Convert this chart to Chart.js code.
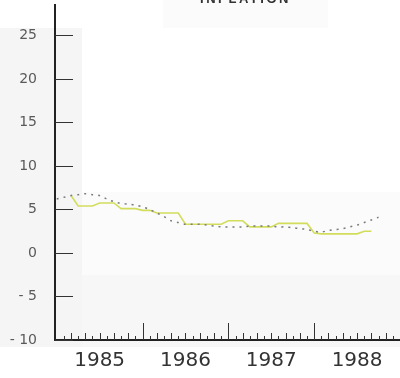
<!DOCTYPE html>
<html>
<head>
<meta charset="utf-8">
<script src="https://cdn.jsdelivr.net/npm/chart.js@4"></script>
<style>
  html, body { margin: 0; padding: 0; background: #fff; }
  #wrap { position: relative; width: 400px; height: 378px; overflow: hidden; }
  #title {
    position: absolute; left: 163px; top: -9px; width: 165px; height: 37px;
    box-sizing: border-box; padding-top: 0; text-align: center;
    font: bold 13px "Liberation Sans", Arial, sans-serif; color: #333; letter-spacing: 2.5px;
  }
</style>
</head>
<body>
<div id="wrap">
  <canvas id="chart" width="400" height="378"></canvas>
  <div id="title">INFLATION</div>
</div>
<script>
// monthly observations, Jan 1985 onwards
const solidMonths = ['1985-03','1985-04','1985-05','1985-06','1985-07','1985-08','1985-09','1985-10','1985-11','1985-12',
  '1986-01','1986-02','1986-03','1986-04','1986-05','1986-06','1986-07','1986-08','1986-09','1986-10','1986-11','1986-12',
  '1987-01','1987-02','1987-03','1987-04','1987-05','1987-06','1987-07','1987-08','1987-09','1987-10','1987-11','1987-12',
  '1988-01','1988-02','1988-03','1988-04','1988-05','1988-06','1988-07','1988-08','1988-09'];
const solidValues = [6.6, 5.4, 5.4, 5.4, 5.75, 5.75, 5.75, 5.1, 5.1, 5.1,
  4.9, 4.9, 4.6, 4.6, 4.6, 4.6, 3.3, 3.3, 3.3, 3.3, 3.3, 3.3,
  3.7, 3.7, 3.7, 3.0, 3.0, 3.0, 3.0, 3.4, 3.4, 3.4, 3.4, 3.4,
  2.3, 2.2, 2.2, 2.2, 2.2, 2.2, 2.2, 2.5, 2.5];

const dottedMonths = ['1985-01','1985-02','1985-03','1985-04','1985-05','1985-06','1985-07','1985-08','1985-09','1985-10','1985-11','1985-12',
  '1986-01','1986-02','1986-03','1986-04','1986-05','1986-06','1986-07','1986-08','1986-09','1986-10','1986-11','1986-12',
  '1987-01','1987-02','1987-03','1987-04','1987-05','1987-06','1987-07','1987-08','1987-09','1987-10','1987-11','1987-12',
  '1988-01','1988-02','1988-03','1988-04','1988-05','1988-06','1988-07','1988-08','1988-09','1988-10'];
const dottedValues = [6.2, 6.4, 6.6, 6.7, 6.8, 6.7, 6.6, 6.2, 5.9, 5.7, 5.6, 5.5,
  5.3, 5.0, 4.6, 4.2, 3.7, 3.5, 3.3, 3.3, 3.3, 3.2, 3.1, 3.0,
  3.0, 3.0, 3.0, 3.1, 3.1, 3.1, 3.1, 3.0, 3.0, 2.9, 2.8, 2.7,
  2.5, 2.4, 2.6, 2.7, 2.8, 3.0, 3.2, 3.5, 3.8, 4.1];

const yearLabels = ['1985', '1986', '1987', '1988'];
const yTickValues = [-10, -5, 0, 5, 10, 15, 20, 25];

const toYear = (m) => {
    const [y, mo] = m.split('-').map(Number);
    return y + (mo - 1) / 12;
};
const toPoints = (months, values) => months.map((m, i) => ({ x: toYear(m), y: values[i] }));

// faint paper tones of the scanned original
const backdrop = {
    id: 'backdrop',
    beforeDraw(chart) {
        const ctx = chart.ctx;
        ctx.save();
        ctx.fillStyle = '#f5f5f5';
        ctx.fillRect(0, 28, 82, 319);
        ctx.fillStyle = '#f7f7f7';
        ctx.fillRect(82, 275, 318, 72);
        ctx.fillStyle = '#fbfbfb';
        ctx.fillRect(82, 192, 318, 83);
        ctx.fillRect(163, 0, 165, 28);
        ctx.restore();
    }
};

const tickMarks = {
    id: 'tickMarks',
    afterDraw(chart) {
        const ctx = chart.ctx;
        const xs = chart.scales.x;
        const ys = chart.scales.y;
        const left = chart.chartArea.left;
        const bottom = chart.chartArea.bottom;
        ctx.save();
        ctx.strokeStyle = '#333';
        ctx.lineWidth = 1;
        yTickValues.forEach(v => {
            const py = Math.round(ys.getPixelForValue(v)) + 0.5;
            ctx.beginPath();
            ctx.moveTo(left, py);
            ctx.lineTo(left + 18, py);
            ctx.stroke();
        });
        for (let y = 1985; y < 1989; y++) {
            for (let m = 0; m < 12; m++) {
                if (y === 1985 && m === 0) continue;
                const px = Math.round(xs.getPixelForValue(y + m / 12)) + 0.5;
                const len = m === 0 ? 17 : (m % 2 === 0 ? 7 : 4);
                ctx.beginPath();
                ctx.moveTo(px, bottom);
                ctx.lineTo(px, bottom - len);
                ctx.stroke();
            }
        }
        ctx.restore();
    }
};

new Chart(document.getElementById('chart'), {
    type: 'line',
    data: {
        datasets: [{
            label: 'Dotted',
            data: toPoints(dottedMonths, dottedValues),
            borderColor: '#7a7a7a',
            borderWidth: 1.5,
            borderDash: [2, 5],
            pointRadius: 0,
            tension: 0.3,
            fill: false
        }, {
            label: 'Solid',
            data: toPoints(solidMonths, solidValues),
            borderColor: '#d3dd5c',
            borderWidth: 1.6,
            pointRadius: 0,
            tension: 0,
            fill: false
        }]
    },
    options: {
        responsive: false,
        animation: false,
        layout: { padding: { top: 5, left: 0, right: 0, bottom: 0 } },
        plugins: {
            legend: { display: false },
            tooltip: { enabled: false }
        },
        scales: {
            x: {
                type: 'linear',
                min: 1984.98,
                max: 1989,
                afterFit: (s) => { s.height = 38; s.paddingLeft = 0; s.paddingRight = 0; },
                afterBuildTicks: (s) => {
                    s.ticks = yearLabels.map(l => ({ value: Number(l) + 0.5 }));
                },
                ticks: {
                    autoSkip: false,
                    maxRotation: 0,
                    padding: 9,
                    color: '#333',
                    font: { family: 'DejaVu Sans', size: 20 },
                    callback: (v) => String(Math.floor(v))
                },
                grid: { display: false, drawTicks: false },
                border: { display: true, color: '#222', width: 2 }
            },
            y: {
                min: -10,
                max: 28.5,
                afterFit: (s) => { s.width = 55; s.paddingTop = 0; s.paddingBottom = 0; },
                afterBuildTicks: (s) => {
                    s.ticks = yTickValues.map(v => ({ value: v }));
                },
                ticks: {
                    padding: 18,
                    color: '#5a5a5a',
                    font: { family: 'DejaVu Sans', size: 14 },
                    callback: (v) => v < 0 ? '- ' + Math.abs(v) : String(v)
                },
                grid: { display: false, drawTicks: false },
                border: { display: true, color: '#222', width: 2 }
            }
        }
    },
    plugins: [backdrop, tickMarks]
});
</script>
</body>
</html>
